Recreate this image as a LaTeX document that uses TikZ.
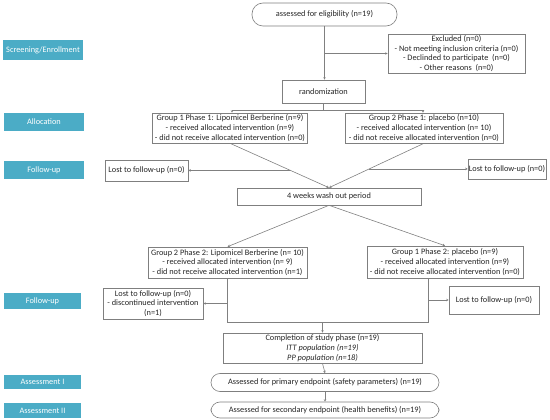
\documentclass[tikz,border=0pt]{standalone}
\usepackage{fontspec}
\setmainfont{Carlito}
\usetikzlibrary{arrows.meta,calc}
\definecolor{labblue}{HTML}{4BACC6}
\definecolor{boxgray}{HTML}{7F7F7F}
\definecolor{linegray}{HTML}{808080}
\definecolor{txt}{HTML}{262626}
\begin{document}
\begin{tikzpicture}[x=1pt,y=-1pt,
  box/.style={draw=boxgray, line width=0.6pt, fill=white, align=center, inner sep=0pt,
    font=\fontsize{8.3}{9.8}\selectfont, text=txt},
  rbox/.style={box, rounded corners=9pt},
  lab/.style={fill=labblue, text=white, inner sep=0pt, align=center,
    font=\fontsize{8.3}{9.8}\selectfont},
  ln/.style={draw=linegray, line width=0.6pt},
  arr/.style={ln, -{Stealth[length=2.5pt,width=2.5pt]}}]
\useasboundingbox (0,0) rectangle (550,420);

% left stage labels
\node[lab, minimum width=80pt, minimum height=20pt] (l1) at (43,50) {Screening/Enrollment};
\node[lab, minimum width=80pt, minimum height=18pt] (l2) at (44,122) {Allocation};
\node[lab, minimum width=80pt, minimum height=18pt] (l3) at (44,170) {Follow-up};
\node[lab, minimum width=77pt, minimum height=16pt] (l4) at (42.5,301) {Follow-up};
\node[lab, minimum width=77pt, minimum height=14pt] (l5) at (42.5,382) {Assessment I};
\node[lab, minimum width=77pt, minimum height=15pt] (l6) at (42.5,410.5) {Assessment II};

% flow boxes
\node[rbox, minimum width=145pt, minimum height=23pt, rounded corners=11pt] (elig) at (324.5,14.5) {assessed for eligibility (n=19)};
\node[box, minimum width=137pt, minimum height=39pt] (excl) at (456.5,53.5)
  {Excluded (n=0)\\- Not meeting inclusion criteria (n=0)\\- Declinded to participate\ \ (n=0)\\- Other reasons\ \ (n=0)};
\node[box, minimum width=83pt, minimum height=23pt] (rand) at (323.5,91.5) {randomization};
\node[box, minimum width=155pt, minimum height=30pt] (g1p1) at (230,128)
  {Group 1 Phase 1: Lipomicel Berberine (n=9)\\- received allocated intervention (n=9)\\- did not receive allocated intervention (n=0)};
\node[box, minimum width=158pt, minimum height=30pt] (g2p1) at (424,128)
  {Group 2 Phase 1: placebo (n=10)\\- received allocated intervention (n= 10)\\- did not receive allocated intervention (n=0)};
\node[box, minimum width=83pt, minimum height=21pt] (lost1L) at (146.5,170.5) {Lost to follow-up (n=0)};
\node[box, minimum width=78pt, minimum height=20pt] (lost1R) at (507,169) {Lost to follow-up (n=0)};
\node[box, minimum width=184pt, minimum height=17pt] (wash) at (329,196.5) {4 weeks wash out period};
\node[box, minimum width=159pt, minimum height=31pt] (g2p2) at (227.5,262.5)
  {Group 2 Phase 2: Lipomicel Berberine (n= 10)\\- received allocated intervention (n= 9)\\- did not receive allocated intervention (n=1)};
\node[box, minimum width=156pt, minimum height=32pt] (g1p2) at (445,262)
  {Group 1 Phase 2: placebo (n=9)\\- received allocated intervention (n=9)\\- did not receive allocated intervention (n=0)};
\node[box, minimum width=100pt, minimum height=31pt] (lost2L) at (153,303.5)
  {Lost to follow-up (n=0)\\- discontinued intervention\\(n=1)};
\node[box, minimum width=90pt, minimum height=28pt] (lost2R) at (494,300) {Lost to follow-up (n=0)};
\node[box, minimum width=199pt, minimum height=30pt] (comp) at (322.5,348)
  {Completion of study phase (n=19)\\\textit{ITT population (n=19)}\\\textit{PP population (n=18)}};
\node[rbox, minimum width=228pt, minimum height=18pt] (prim) at (325,382.5) {Assessed for primary endpoint (safety parameters) (n=19)};
\node[rbox, minimum width=228pt, minimum height=16pt] (sec) at (325,410) {Assessed for secondary endpoint (health benefits) (n=19)};

% connectors: enrollment
\draw[arr] (elig.south) -- (elig.south |- rand.north);
\draw[arr] (elig.south |- excl.west) -- (excl.west);

% randomization split
\coordinate (rsplit) at (rand.south |- 0,110.5);
\coordinate (sL) at (232,110.5);
\coordinate (sR) at (423,110.5);
\draw[ln] (rand.south) -- (rsplit);
\draw[ln] (sL) -- (sR);
\draw[arr] (sL) -- (sL |- g1p1.north);
\draw[arr] (sR) -- (sR |- g2p1.north);

% to wash-out
\draw[arr] (g1p1.south) -- (wash.north);
\draw[arr] (g2p1.south) -- (wash.north);
\coordinate (dL) at ($(g1p1.south)!0.611!(wash.north)$);
\coordinate (dR) at ($(g2p1.south)!0.578!(wash.north)$);
\draw[arr] (dL) -- (dL -| lost1L.east);
\draw[arr] (dR) -- (dR -| lost1R.west);

% phase 2
\draw[arr] (wash.south) -- (g2p2.north);
\draw[arr] (wash.south) -- (g1p2.north);
\coordinate (vL) at (g2p2.south |- 0,322);
\coordinate (tR) at (428,278);
\coordinate (vR) at (428,322);
\draw[ln] (g2p2.south) -- (vL) -- (vR) -- (tR);
\draw[arr] (g2p2.south |- lost2L.east) -- (lost2L.east);
\draw[arr] (tR |- lost2R.west) -- (lost2R.west);
\draw[arr] (comp.north |- vL) -- (comp.north);

% assessments
\draw[arr] (comp.south) -- (prim.north);
\draw[arr] (prim.south) -- (sec.north);
\end{tikzpicture}
\end{document}
